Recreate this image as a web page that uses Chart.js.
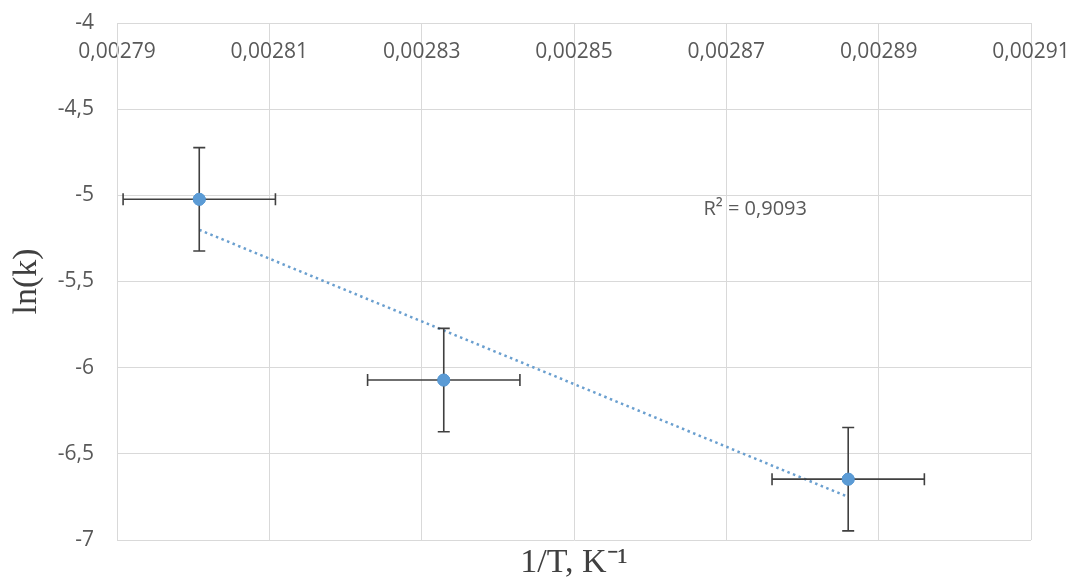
<!DOCTYPE html>
<html>
<head>
<meta charset="utf-8">
<script src="https://cdn.jsdelivr.net/npm/chart.js@4.4.1/dist/chart.umd.min.js"></script>
<style>
  html, body { margin: 0; padding: 0; background: #ffffff; }
  #wrap { width: 1072px; height: 583px; position: relative; }
</style>
</head>
<body>
<div id="wrap"><canvas id="c" width="1072" height="583"></canvas></div>
<script>
// ---- data ----
const invT = [0.0028008, 0.0028329, 0.0028860];   // 1/T, K^-1
const lnK = [-5.023, -6.072, -6.647];              // ln(k)
const invTErr = [0.00001, 0.00001, 0.00001];       // horizontal error
const lnKErr = [0.30, 0.30, 0.30];                 // vertical error
const trendX = [0.0028008, 0.0028860];             // trendline ends
const trendY = [-5.20, -6.75];
const xTicks = [0.00279, 0.00281, 0.00283, 0.00285, 0.00287, 0.00289, 0.00291];
const yTicks = [-7, -6.5, -6, -5.5, -5, -4.5, -4];
const r2Label = 'R² = 0,9093';

const gridColor = '#d9d9d9';
const textColor = '#595959';
const tickFont = { family: "'Open Sans', sans-serif", size: 21 };

const errorBars = {
  id: 'errorBars',
  afterDatasetsDraw(chart) {
    const { ctx, scales: { x, y } } = chart;
    const cap = 6;
    ctx.save();
    ctx.strokeStyle = '#404040';
    ctx.lineWidth = 1.6;
    for (let i = 0; i < invT.length; i++) {
      const px = x.getPixelForValue(invT[i]);
      const py = y.getPixelForValue(lnK[i]);
      const xl = x.getPixelForValue(invT[i] - invTErr[i]);
      const xr = x.getPixelForValue(invT[i] + invTErr[i]);
      const yt = y.getPixelForValue(lnK[i] + lnKErr[i]);
      const yb = y.getPixelForValue(lnK[i] - lnKErr[i]);
      ctx.beginPath();
      ctx.moveTo(xl, py); ctx.lineTo(xr, py);
      ctx.moveTo(xl, py - cap); ctx.lineTo(xl, py + cap);
      ctx.moveTo(xr, py - cap); ctx.lineTo(xr, py + cap);
      ctx.moveTo(px, yt); ctx.lineTo(px, yb);
      ctx.moveTo(px - cap, yt); ctx.lineTo(px + cap, yt);
      ctx.moveTo(px - cap, yb); ctx.lineTo(px + cap, yb);
      ctx.stroke();
    }
    // redraw points on top of the bars
    const meta = chart.getDatasetMeta(1);
    meta.data.forEach(p => p.draw(ctx, chart.chartArea));
    // R² label
    ctx.fillStyle = textColor;
    ctx.font = "20px 'Open Sans', sans-serif";
    ctx.textAlign = 'left';
    ctx.textBaseline = 'middle';
    ctx.fillText(r2Label, x.getPixelForValue(0.002867), y.getPixelForValue(-5.08));
    ctx.restore();
  }
};

new Chart(document.getElementById('c'), {
  data: {
    datasets: [
      {
        type: 'line',
        data: trendX.map((v, i) => ({ x: v, y: trendY[i] })),
        borderColor: '#6a9fcf',
        borderWidth: 2.5,
        borderDash: [2.5, 3.5],
        pointRadius: 0,
        fill: false,
        order: 2
      },
      {
        type: 'scatter',
        data: invT.map((v, i) => ({ x: v, y: lnK[i] })),
        backgroundColor: '#5b9bd5',
        borderColor: '#5b9bd5',
        pointRadius: 6,
        order: 1
      }
    ]
  },
  options: {
    responsive: false,
    animation: false,
    layout: { padding: { left: 0, right: 41, top: 0, bottom: 0 } },
    plugins: { legend: { display: false }, tooltip: { enabled: false } },
    scales: {
      x: {
        type: 'linear',
        position: 'top',
        min: xTicks[0],
        max: xTicks[xTicks.length - 1],
        afterBuildTicks: s => { s.ticks = xTicks.map(v => ({ value: v })); },
        afterFit: s => { s.height = 23; s.paddingLeft = 0; s.paddingRight = 0; },
        grid: { color: gridColor, drawTicks: false },
        border: { color: gridColor },
        ticks: {
          mirror: true,
          padding: 16,
          color: textColor,
          font: tickFont,
          maxRotation: 0,
          autoSkip: false,
          callback: v => v.toFixed(5).replace('.', ',')
        }
      },
      x2: {
        type: 'linear',
        position: 'bottom',
        min: xTicks[0],
        max: xTicks[xTicks.length - 1],
        afterFit: s => { s.height = 43; s.paddingLeft = 0; s.paddingRight = 0; },
        grid: { display: false },
        border: { display: false },
        ticks: { display: false },
        title: {
          display: true,
          text: '1/T, K⁻¹',
          color: '#404040',
          font: { family: "'Liberation Serif', 'Times New Roman', serif", size: 34 },
          padding: { top: 0, bottom: 0 }
        }
      },
      y: {
        type: 'linear',
        position: 'left',
        min: yTicks[0],
        max: yTicks[yTicks.length - 1],
        afterBuildTicks: s => { s.ticks = yTicks.map(v => ({ value: v })); },
        afterFit: s => { s.width = 117; s.paddingTop = 0; s.paddingBottom = 0; },
        grid: { color: gridColor, drawTicks: false },
        border: { color: gridColor },
        ticks: {
          padding: 23,
          color: textColor,
          font: tickFont,
          callback: v => String(v).replace('.', ',')
        },
        title: {
          display: true,
          text: 'ln(k)',
          color: '#404040',
          font: { family: "'Liberation Serif', 'Times New Roman', serif", size: 34 },
          padding: { top: 7, bottom: 0 }
        }
      }
    }
  },
  plugins: [errorBars]
});
</script>
</body>
</html>
